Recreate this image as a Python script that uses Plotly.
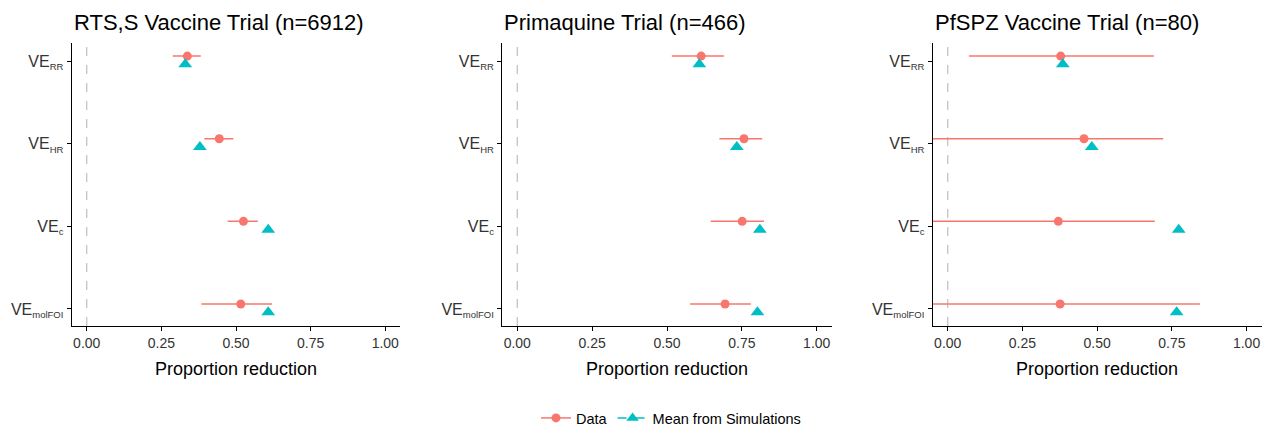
import plotly.graph_objects as go

# ---------------- data ----------------
SUB = "<sub><span style='font-size:9.5px'>{}</span></sub>"
categories = ["VE" + SUB.format("RR"), "VE" + SUB.format("HR"),
              "VE" + SUB.format("c"), "VE" + SUB.format("molFOI")]
cat_pos = [4, 3, 2, 1]
trials = ["RTS,S Vaccine Trial (n=6912)", "Primaquine Trial (n=466)", "PfSPZ Vaccine Trial (n=80)"]

rts_data = [0.337, 0.444, 0.525, 0.516]
rts_lo = [0.288, 0.394, 0.472, 0.384]
rts_hi = [0.382, 0.491, 0.573, 0.621]
rts_sim = [0.330, 0.379, 0.608, 0.608]

prim_data = [0.614, 0.757, 0.751, 0.694]
prim_lo = [0.516, 0.675, 0.646, 0.577]
prim_hi = [0.690, 0.818, 0.824, 0.780]
prim_sim = [0.608, 0.733, 0.810, 0.802]

pfspz_data = [0.378, 0.456, 0.370, 0.376]
pfspz_lo = [0.071, -0.25, -0.30, -0.35]
pfspz_hi = [0.690, 0.721, 0.693, 0.844]
pfspz_sim = [0.385, 0.482, 0.773, 0.766]

x_ticks = [0.0, 0.25, 0.5, 0.75, 1.0]
x_ticklabels = ["0.00", "0.25", "0.50", "0.75", "1.00"]

series = [
    (rts_data, rts_lo, rts_hi, rts_sim),
    (prim_data, prim_lo, prim_hi, prim_sim),
    (pfspz_data, pfspz_lo, pfspz_hi, pfspz_sim),
]

RED = "#F8766D"
TEAL = "#00BFC4"
W, H = 1262, 427
FONT = "Liberation Sans, Arial"

# panel geometry (pixels)
x_domains_px = [(71.8, 400.2), (502.3, 831.7), (932.8, 1261.5)]
y_top_px, y_bot_px = 43, 326

fig = go.Figure()
for i, (d, lo, hi, sim) in enumerate(series):
    ax = "" if i == 0 else str(i + 1)
    xa, ya = "x" + ax, "y" + ax
    yd = [p + 0.06 for p in cat_pos]
    ys = [p - 0.04 for p in cat_pos]
    fig.add_trace(go.Scatter(
        x=d, y=yd, mode="markers", xaxis=xa, yaxis=ya, showlegend=False,
        marker=dict(symbol="circle", size=9, color=RED),
        error_x=dict(type="data", symmetric=False,
                     array=[h - v for h, v in zip(hi, d)],
                     arrayminus=[v - l for v, l in zip(d, lo)],
                     color=RED, thickness=1.5, width=0),
    ))
    fig.add_trace(go.Scatter(
        x=sim, y=ys, mode="markers", xaxis=xa, yaxis=ya, showlegend=False,
        marker=dict(symbol="triangle-up", size=12, color=TEAL),
    ))
    fig.add_shape(type="line", xref=xa, yref=ya + " domain", x0=0, x1=0, y0=0, y1=1,
                  line=dict(color="#BEBEBE", width=1.2, dash="dash"), layer="below")

    x0p, x1p = x_domains_px[i]
    fig.update_layout(**{
        ("xaxis" + ax): dict(
            domain=[x0p / W, x1p / W], range=[-0.05, 1.05], anchor=ya,
            tickvals=x_ticks, ticktext=x_ticklabels, automargin=False,
            showline=True, linecolor="black", linewidth=1.4, mirror=False,
            ticks="outside", ticklen=4, tickcolor="black", tickwidth=1.2,
            showgrid=False, zeroline=False,
            tickfont=dict(family=FONT, size=14, color="#333333"),
        ),
        ("yaxis" + ax): dict(
            domain=[1 - y_bot_px / H, 1 - y_top_px / H], range=[0.794, 4.218], anchor=xa,
            tickvals=cat_pos, ticktext=categories, automargin=False,
            showline=True, linecolor="black", linewidth=1.4,
            ticks="outside", ticklen=4, tickcolor="black", tickwidth=1.2,
            showgrid=False, zeroline=False,
            tickfont=dict(family=FONT, size=16, color="#333333"),
        ),
    })
    fig.add_annotation(text=trials[i], xref="paper", yref="paper",
                       x=x0p / W, y=1 - 23 / H, xanchor="left", yanchor="middle",
                       showarrow=False,
                       font=dict(family=FONT, size=22, color="black"))
    fig.add_annotation(text="Proportion reduction", xref="paper", yref="paper",
                       x=(x0p + x1p) / 2 / W, y=1 - 369 / H, xanchor="center", yanchor="middle",
                       showarrow=False,
                       font=dict(family=FONT, size=18, color="black"))

# legend dummy traces
fig.add_trace(go.Scatter(x=[None], y=[None], mode="lines+markers", name="Data",
                         line=dict(color=RED, width=1.5),
                         marker=dict(symbol="circle", size=9, color=RED)))
fig.add_trace(go.Scatter(x=[None], y=[None], mode="lines+markers", name="Mean from Simulations",
                         line=dict(color=TEAL, width=1.5, dash="dash"),
                         marker=dict(symbol="triangle-up", size=11, color=TEAL)))

fig.update_layout(
    width=W, height=H,
    margin=dict(l=0, r=0, t=0, b=0, autoexpand=False),
    paper_bgcolor="white", plot_bgcolor="white",
    showlegend=True,
    legend=dict(orientation="h", x=671 / W, y=1 - 418 / H, xanchor="center", yanchor="middle",
                font=dict(family=FONT, size=14.5, color="black"),
                itemwidth=30, bgcolor="rgba(0,0,0,0)"),
)

fig.write_html("out.html", config={"displayModeBar": False},
               post_script="document.body.style.margin='0';document.body.style.padding='0';")
